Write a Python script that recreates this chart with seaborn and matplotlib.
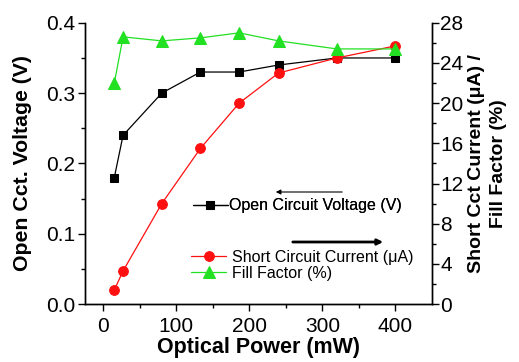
import pandas as pd
import matplotlib
matplotlib.use("Agg")
import matplotlib.pyplot as plt
import seaborn as sns

power = [15, 27, 80, 133, 186, 240, 320, 400]
voc = [0.18, 0.24, 0.30, 0.33, 0.33, 0.34, 0.35, 0.35]
isc = [1.4, 3.3, 10.0, 15.5, 20.0, 23.0, 24.5, 25.7]
ff = [22.0, 26.6, 26.2, 26.5, 27.0, 26.2, 25.4, 25.4]

df = pd.DataFrame({"power": power, "voc": voc, "isc": isc, "ff": ff})

sns.set_style("ticks")
plt.rcParams["font.family"] = ["Liberation Sans", "DejaVu Sans"]
plt.rcParams.update({"text.color": "black", "axes.labelcolor": "black",
                     "xtick.color": "black", "ytick.color": "black",
                     "axes.edgecolor": "black"})

fig = plt.figure(figsize=(5.19, 3.62), dpi=100)
ax = fig.add_axes([0.164, 0.160, 0.668, 0.777])
ax2 = ax.twinx()

sns.lineplot(data=df, x="power", y="voc", ax=ax, color="black", marker="s",
             markersize=6, markeredgecolor="black", linewidth=0.9,
             label="Open Circuit Voltage (V)", legend=False)
sns.lineplot(data=df, x="power", y="isc", ax=ax2, color="#ff1010", marker="o",
             markersize=7, markeredgecolor="#ff1010", linewidth=0.9,
             label="Short Circuit Current (\u03bcA)", legend=False)
sns.lineplot(data=df, x="power", y="ff", ax=ax2, color="#22e022", marker="^",
             markersize=8, markeredgecolor="#22e022", linewidth=0.9,
             label="Fill Factor (%)", legend=False)

ax.set_xlim(-25, 450)
ax.set_ylim(0, 0.4)
ax2.set_ylim(0, 28)
ax.set_xticks([0, 100, 200, 300, 400])
ax.set_xticks([50, 150, 250, 350], minor=True)
ax.set_yticks([0.0, 0.1, 0.2, 0.3, 0.4])
ax.set_yticks([0.05, 0.15, 0.25, 0.35], minor=True)
ax.set_yticklabels(["0.0", "0.1", "0.2", "0.3", "0.4"])
ax2.set_yticks(range(0, 29, 4))
ax2.set_yticks(range(2, 28, 4), minor=True)

for a in (ax, ax2):
    a.spines["top"].set_visible(False)
    for s in a.spines.values():
        s.set_linewidth(1.0)
    a.tick_params(which="major", length=5, width=1, labelsize=15, direction="out")
    a.tick_params(which="minor", length=3, width=1, direction="out")
ax.tick_params(axis="x", pad=4)
ax.tick_params(axis="y", pad=2)
ax2.tick_params(axis="y", pad=1)

ax.set_xlabel("Optical Power (mW)", fontsize=15.5, fontweight="bold", labelpad=1)
ax.set_ylabel("Open Cct. Voltage (V)", fontsize=15.3, fontweight="bold", labelpad=10)
ax2.set_ylabel("Short Cct Current (\u03bcA) /\nFill Factor (%)", fontsize=14,
               fontweight="bold", rotation=90, labelpad=3, linespacing=1.45)

h1, l1 = ax.get_legend_handles_labels()
h2, l2 = ax2.get_legend_handles_labels()
leg1 = ax.legend(h1, l1, loc="center left", bbox_to_anchor=(0.292, 0.35),
                 frameon=False, fontsize=11.5, handlelength=2.2, handletextpad=0.1,
                 borderaxespad=0)
ax.add_artist(leg1)
ax2.legend(h2, l2, loc="upper left", bbox_to_anchor=(0.287, 0.215),
           frameon=False, fontsize=11.5, handlelength=2.2, handletextpad=0.35,
           labelspacing=0.05, borderaxespad=0)

ax.annotate("", xy=(273 / 519, 1 - 192 / 362), xytext=(345 / 519, 1 - 192 / 362),
            xycoords="figure fraction", textcoords="figure fraction",
            arrowprops=dict(arrowstyle="-|>", color="black", lw=0.8, mutation_scale=7))
ax.annotate("", xy=(386 / 519, 1 - 242 / 362), xytext=(290 / 519, 1 - 242 / 362),
            xycoords="figure fraction", textcoords="figure fraction",
            arrowprops=dict(arrowstyle="-|>", color="black", lw=2.0, mutation_scale=8))

fig.savefig("out.png", dpi=100)
